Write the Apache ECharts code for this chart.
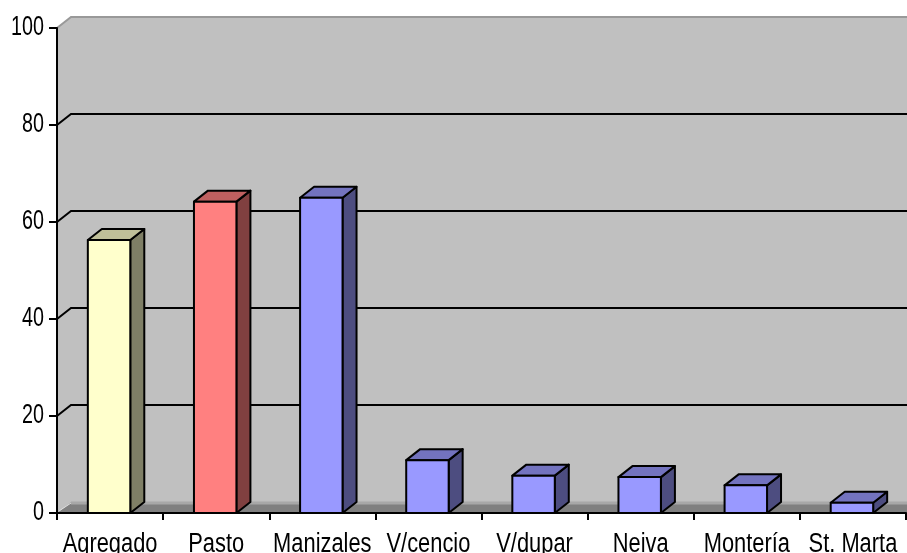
<!DOCTYPE html>
<html>
<head>
<meta charset="utf-8">
<script src="https://cdn.jsdelivr.net/npm/echarts@6/dist/echarts.min.js"></script>
<style>
  html, body { margin: 0; padding: 0; background: #ffffff; }
  #chart { width: 907px; height: 553px; }
</style>
</head>
<body>
<div id="chart"></div>
<script>
// Categories and values
var categories = ['Agregado', 'Pasto', 'Manizales', 'V/cencio', 'V/dupar', 'Neiva', 'Montería', 'St. Marta'];
var values = [56.3, 64.2, 65.0, 10.9, 7.7, 7.4, 5.7, 2.1];
var yTicks = [0, 20, 40, 60, 80, 100];

// Face colours: front, side (shaded), top (lighter shade)
var palettes = {
  yellow: { front: '#FFFFCC', side: '#7F7F66', top: '#BFBF99' },
  red:    { front: '#FF8080', side: '#804040', top: '#BF6060' },
  blue:   { front: '#9999FF', side: '#4D4D80', top: '#7373BF' }
};
function paletteFor(i) {
  if (i === 0) return palettes.yellow;
  if (i === 1) return palettes.red;
  return palettes.blue;
}

// Depth offset of the 3D walls and columns
var DX = 14, DY = -11;
var FONT_FAMILY = '"Liberation Sans", Arial, sans-serif';
var LABEL_FONT = '27px ' + FONT_FAMILY;

var chart = echarts.init(document.getElementById('chart'));

function renderWalls(params, api) {
  var cs = params.coordSys;
  var xl = cs.x;
  var yTop = api.coord([0, 100])[1];
  var yBot = api.coord([0, 0])[1];
  var right = 907;
  var children = [];
  // Walls (left + back) as one gray shape
  children.push({
    type: 'polygon',
    shape: { points: [[xl, yTop], [xl + DX, yTop + DY], [right, yTop + DY], [right, yBot + DY], [xl + DX, yBot + DY], [xl, yBot]] },
    style: { fill: '#C0C0C0' }
  });
  // Floor
  children.push({
    type: 'polygon',
    shape: { points: [[xl, yBot], [xl + DX, yBot + DY], [right, yBot + DY], [right, yBot]] },
    style: { fill: '#808080' }
  });
  children.push({
    type: 'line',
    shape: { x1: xl + DX, y1: yBot + DY + 1, x2: right, y2: yBot + DY + 1 },
    style: { stroke: '#A8A8A8', lineWidth: 3 }
  });
  children.push({
    type: 'line',
    shape: { x1: xl + 2, y1: yBot - 2, x2: xl + DX, y2: yBot + DY + 1 },
    style: { stroke: '#E0E0E0', lineWidth: 1 }
  });
  // Top edges of the walls
  children.push({
    type: 'polyline',
    shape: { points: [[xl, yTop], [xl + DX, yTop + DY], [right, yTop + DY]] },
    style: { stroke: '#999999', lineWidth: 2, fill: null }
  });
  // Gridlines on the back wall, with their run across the left wall
  yTicks.forEach(function (v) {
    if (v === 0 || v === 100) return;
    var y = api.coord([0, v])[1];
    children.push({
      type: 'polyline',
      shape: { points: [[xl, y], [xl + DX, y + DY], [right, y + DY]] },
      style: { stroke: '#000000', lineWidth: 2, fill: null }
    });
  });
  return { type: 'group', children: children };
}

function renderColumn(params, api) {
  var i = api.value(0);
  var v = api.value(1);
  var top = api.coord([i, v]);
  var base = api.coord([i, 0]);
  var band = api.size([1, 0])[0];
  var half = band * 0.2;
  var x0 = top[0] - half - 1, x1 = top[0] + half - 1;
  var yT = top[1], yB = base[1];
  var p = paletteFor(i);
  var stroke = { stroke: '#000000', lineWidth: 2, lineJoin: 'round' };
  return {
    type: 'group',
    children: [
      {
        type: 'polygon',
        shape: { points: [[x1, yT], [x1 + DX, yT + DY], [x1 + DX, yB + DY], [x1, yB]] },
        style: Object.assign({ fill: p.side }, stroke)
      },
      {
        type: 'polygon',
        shape: { points: [[x0, yT], [x0 + DX, yT + DY], [x1 + DX, yT + DY], [x1, yT]] },
        style: Object.assign({ fill: p.top }, stroke)
      },
      {
        type: 'rect',
        shape: { x: x0, y: yT, width: x1 - x0, height: yB - yT },
        style: Object.assign({ fill: p.front }, stroke)
      }
    ]
  };
}

// Axis labels drawn as condensed text (tall, narrow lettering)
function renderLabels(params, api) {
  var cs = params.coordSys;
  var xl = cs.x;
  var yBot = api.coord([0, 0])[1];
  var children = [];
  categories.forEach(function (name, i) {
    var c = api.coord([i, 0]);
    children.push({
      type: 'text',
      x: c[0],
      y: yBot + 32,
      scaleX: 0.81,
      style: { text: name, font: LABEL_FONT, fill: '#000000', align: 'center', verticalAlign: 'middle' }
    });
  });
  yTicks.forEach(function (v) {
    var y = api.coord([0, v])[1];
    children.push({
      type: 'text',
      x: xl - 13,
      y: y,
      scaleX: 0.73,
      style: { text: String(v), font: LABEL_FONT, fill: '#000000', align: 'right', verticalAlign: 'middle' }
    });
  });
  return { type: 'group', children: children };
}

var option = {
  backgroundColor: '#ffffff',
  animation: false,
  grid: { left: 57, right: 1, top: 28, bottom: 40, containLabel: false, outerBoundsMode: 'none' },
  xAxis: {
    type: 'category',
    data: categories,
    axisLine: { show: true, lineStyle: { color: '#000000', width: 2 } },
    axisTick: { show: true, length: 7, alignWithLabel: false, lineStyle: { color: '#000000', width: 2 } },
    axisLabel: { show: false },
    splitLine: { show: false },
    z: 5
  },
  yAxis: {
    type: 'value',
    min: 0,
    max: 100,
    interval: 20,
    axisLine: { show: true, lineStyle: { color: '#000000', width: 2 } },
    axisTick: { show: true, length: 8, lineStyle: { color: '#000000', width: 2 } },
    axisLabel: { show: false },
    splitLine: { show: false },
    z: 5
  },
  series: [
    {
      type: 'custom',
      renderItem: renderWalls,
      data: [[0, 0]],
      clip: false,
      silent: true,
      z: 1
    },
    {
      type: 'custom',
      renderItem: renderColumn,
      data: values.map(function (v, i) { return [i, v]; }),
      encode: { x: 0, y: 1 },
      clip: false,
      z: 3
    },
    {
      type: 'custom',
      renderItem: renderLabels,
      data: [[0, 0]],
      clip: false,
      silent: true,
      z: 6
    }
  ]
};

chart.setOption(option);
</script>
</body>
</html>
